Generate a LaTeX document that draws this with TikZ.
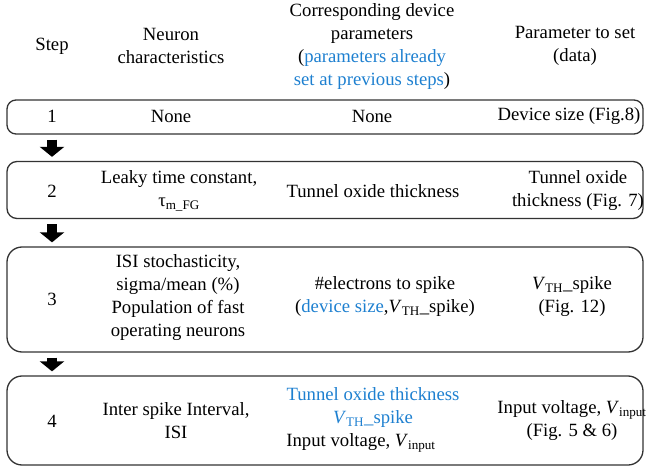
\documentclass[tikz,border=0pt]{standalone}
\usepackage{fontspec}
\setmainfont{Liberation Serif}
\usetikzlibrary{arrows.meta}
\definecolor{prevblue}{RGB}{30,128,208}

\begin{document}
\begin{tikzpicture}[x=1bp, y=-1bp,
    stepbox/.style={draw=black!80, line width=1.3bp, minimum width=636bp, inner sep=0pt},
    cell/.style={align=center, inner sep=0pt, font=\fontsize{18.7bp}{23bp}\selectfont},
    nextstep/.style={line width=10bp, -{Triangle[length=10bp 0 0, width=24bp 0 0]}}]
    \useasboundingbox (0,0) rectangle (646,468);

    % the four step boxes
    \node[stepbox, rounded corners=9bp, minimum height=34bp] (box1) at (325,117) {};
    \node[stepbox, rounded corners=10bp, minimum height=57bp] (box2) at (325,190) {};
    \node[stepbox, rounded corners=15bp, minimum height=105bp] (box3) at (325,299.5) {};
    \node[stepbox, rounded corners=15bp, minimum height=89bp] (box4) at (325,420.5) {};

    % column heads
    \node[cell] (hstep) at (52,46) {Step};
    \node[cell] (hneuron) at (171,46) {Neuron\\characteristics};
    \node[cell] (hdevice) at (372,47) {Corresponding device\\parameters\\(\textcolor{prevblue}{parameters already}\\\textcolor{prevblue}{set at previous steps})};
    \node[cell] (hparam) at (575,46) {Parameter to set\\(data)};

    % step 1
    \node[cell] (s1) at (52,116) {1};
    \node[cell] (n1) at (171,116) {None};
    \node[cell] (d1) at (372,116) {None};
    \node[cell] (p1) at (569,116) {Device size (Fig.8)};

    % step 2
    \node[cell] (s2) at (52,191) {2};
    \node[cell] (n2) at (179,191) {Leaky time constant,\\τ\textsubscript{m\_FG}};
    \node[cell] (d2) at (373,191) {Tunnel oxide thickness};
    \node[cell] (p2) at (578,191) {Tunnel oxide\\thickness (Fig. 7)};

    % step 3
    \node[cell] (s3) at (52,299) {3};
    \node[cell] (n3) at (178,298) {ISI stochasticity,\\sigma/mean (\%)\\Population of fast\\operating neurons};
    \node[cell] (d3) at (385,297) {\#electrons to spike\\(\textcolor{prevblue}{device size},\textit{V}\textsubscript{TH}\_spike)};
    \node[cell] (p3) at (572,297) {\textit{V}\textsubscript{TH}\_spike\\(Fig. 12)};

    % step 4
    \node[cell] (s4) at (52,421) {4};
    \node[cell] (n4) at (176,421) {Inter spike Interval,\\ISI};
    \node[cell] (d4) at (373,420) {\textcolor{prevblue}{Tunnel oxide thickness}\\\textcolor{prevblue}{\textit{V}\textsubscript{TH}\_spike}\\Input voltage, \textit{V}\textsubscript{input}\hspace*{24bp}};
    \node[cell] (p4) at (572,421) {Input voltage, \textit{V}\textsubscript{input}\\(Fig. 5 \& 6)};

    % arrows from one step to the next
    \foreach \i/\j in {1/2, 2/3, 3/4}
      \draw[nextstep] ([yshift=-5bp]box\i.south -| s\i) -- ([yshift=4bp]box\j.north -| s\i);
\end{tikzpicture}
\end{document}
